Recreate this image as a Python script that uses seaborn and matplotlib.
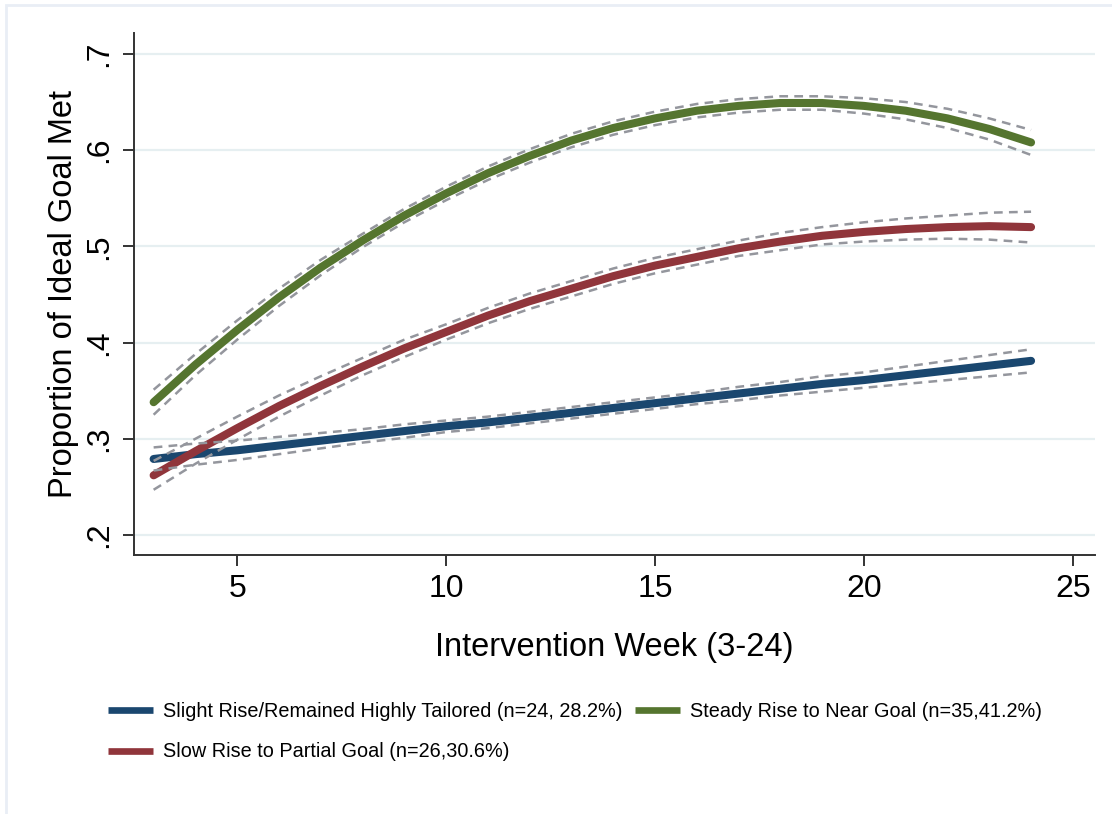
import pandas as pd
import numpy as np
import matplotlib
matplotlib.use("Agg")
import matplotlib.pyplot as plt
import seaborn as sns
from matplotlib.patches import Rectangle

# --- values (fitted trajectories by week) ---
weeks = list(range(3, 25))

slight_rise = [0.279, 0.284, 0.288, 0.293, 0.298, 0.303, 0.308, 0.313, 0.317, 0.322, 0.327,
               0.332, 0.337, 0.342, 0.347, 0.352, 0.357, 0.361, 0.366, 0.371, 0.376, 0.381]
steady_rise = [0.338, 0.377, 0.413, 0.447, 0.478, 0.506, 0.532, 0.555, 0.576, 0.594, 0.610,
               0.623, 0.633, 0.641, 0.646, 0.649, 0.649, 0.646, 0.641, 0.633, 0.622, 0.608]
slow_rise = [0.262, 0.287, 0.311, 0.334, 0.355, 0.375, 0.394, 0.411, 0.428, 0.443, 0.456,
             0.469, 0.480, 0.489, 0.498, 0.505, 0.511, 0.515, 0.518, 0.520, 0.521, 0.520]

# half-widths of the dashed confidence bands
slight_hw = [0.012, 0.011, 0.010, 0.009, 0.008, 0.007, 0.007, 0.006, 0.006, 0.006, 0.006,
             0.006, 0.006, 0.006, 0.007, 0.007, 0.008, 0.008, 0.009, 0.010, 0.011, 0.012]
steady_hw = [0.013, 0.011, 0.010, 0.009, 0.008, 0.007, 0.007, 0.007, 0.007, 0.007, 0.007,
             0.007, 0.007, 0.007, 0.007, 0.007, 0.007, 0.008, 0.009, 0.010, 0.011, 0.013]
slow_hw = [0.015, 0.013, 0.012, 0.011, 0.010, 0.009, 0.009, 0.008, 0.008, 0.008, 0.008,
           0.008, 0.008, 0.008, 0.008, 0.009, 0.009, 0.010, 0.011, 0.012, 0.014, 0.016]

labels = ["Slight Rise/Remained Highly Tailored (n=24, 28.2%)",
          "Slow Rise to Partial Goal (n=26,30.6%)",
          "Steady Rise to Near Goal (n=35,41.2%)"]
colors = ["#1a476f", "#90353b", "#55752f"]

# --- build long table ---
rows = []
for lab, vals, hw in zip(labels, [slight_rise, slow_rise, steady_rise],
                         [slight_hw, slow_hw, steady_hw]):
    for w, v, h in zip(weeks, vals, hw):
        rows.append({"Week": w, "Prop": v, "Lo": v - h, "Hi": v + h, "Group": lab})
df = pd.DataFrame(rows)

sns.set_style("white")
plt.rcParams["font.family"] = ["Liberation Sans", "DejaVu Sans"]
plt.rcParams["text.color"] = "black"
plt.rcParams["axes.labelcolor"] = "black"

fig = plt.figure(figsize=(11.12, 8.14), dpi=100)
ax = fig.add_axes([0.1205, 0.3182, 0.8642, 0.6413])

# faint outer frame of the graph region
fig.patches.append(Rectangle((6 / 1112, -0.05), 1.2, 1 - 5 / 814 + 0.05,
                             transform=fig.transFigure, fill=False,
                             edgecolor="#e9eef5", linewidth=2.0, zorder=0))

palette = dict(zip(labels, colors))
sns.lineplot(data=df, x="Week", y="Prop", hue="Group", hue_order=labels,
             palette=palette, linewidth=5.8, ax=ax, legend=False,
             solid_capstyle="round", zorder=3)
for col in ["Lo", "Hi"]:
    for lab in labels:
        sub = df[df["Group"] == lab]
        sns.lineplot(data=sub, x="Week", y=col, color="#94969d", linewidth=1.8,
                     ax=ax, legend=False, zorder=4, dashes=False)
        ax.lines[-1].set_dashes([3.5, 2.5])

# --- axes styling (Stata-like) ---
ax.set_xlim(2.53, 25.53)
ax.set_ylim(0.1792, 0.7218)
ax.set_xticks([5, 10, 15, 20, 25])
ax.set_yticks([0.2, 0.3, 0.4, 0.5, 0.6, 0.7])
ax.set_yticklabels([".2", ".3", ".4", ".5", ".6", ".7"], rotation=90, va="center")
ax.yaxis.grid(True, color="#e6eff1", linewidth=1.6)
ax.xaxis.grid(False)
ax.set_axisbelow(True)
for s in ["top", "right"]:
    ax.spines[s].set_visible(False)
for s in ["left", "bottom"]:
    ax.spines[s].set_color("#333333")
    ax.spines[s].set_linewidth(1.4)
ax.tick_params(axis="both", direction="out", length=8, width=1.4, color="#333333",
               labelsize=23, labelcolor="black", pad=6, left=True, bottom=True)
ax.set_xlabel("Intervention Week (3-24)", fontsize=23.5, labelpad=20)
ax.set_ylabel("Proportion of Ideal Goal Met", fontsize=23.5, labelpad=4)

# legend
handles = [plt.Line2D([], [], color=c, linewidth=4.8, solid_capstyle="butt") for c in colors]
fig.legend(handles, labels, loc="upper left", bbox_to_anchor=(0.081, 0.16),
           ncol=2, frameon=False, fontsize=14.3, handlelength=2.25,
           handletextpad=0.5, columnspacing=0.65, labelspacing=1.1)

plt.savefig("out.png", dpi=100)
